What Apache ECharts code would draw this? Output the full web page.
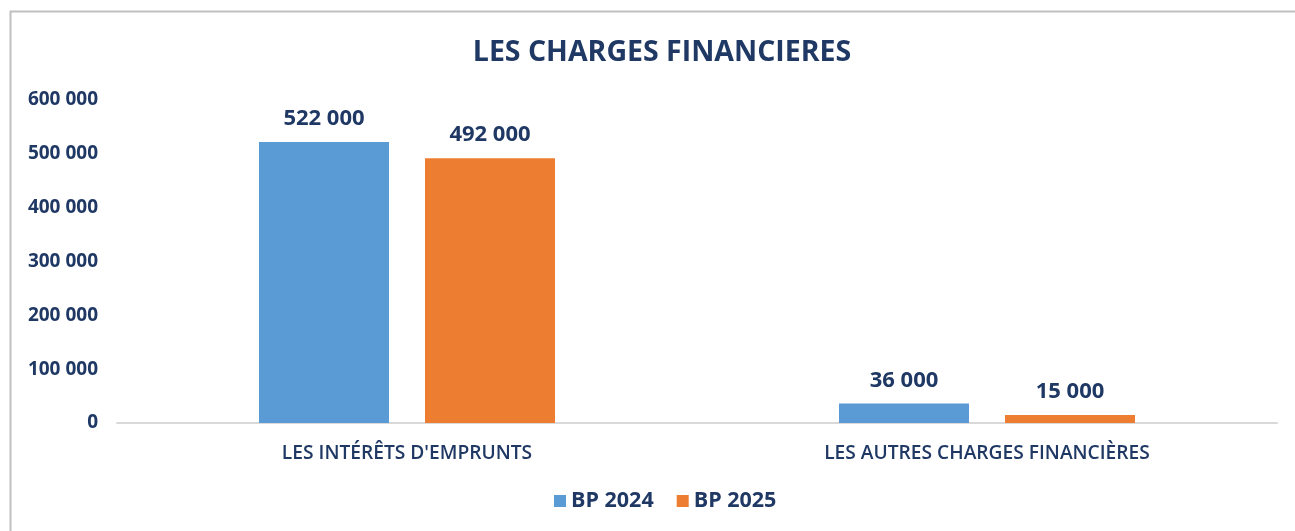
<!DOCTYPE html>
<html><head><meta charset="utf-8">
<script src="https://cdn.jsdelivr.net/npm/echarts@6/dist/echarts.min.js"></script>
<style>html,body{margin:0;padding:0;background:#fff}#c{width:1295px;height:531px}</style>
</head><body><div id="c"></div>
<script>
const categories = ["LES INTÉRÊTS D'EMPRUNTS", "LES AUTRES CHARGES FINANCIÈRES"];
const seriesNames = ["BP 2024", "BP 2025"];
const bp2024 = [522000, 36000];
const bp2025 = [492000, 15000];
const yTicks = [0, 100000, 200000, 300000, 400000, 500000, 600000];

const navy = '#1f3864';
const fontFam = '"Open Sans", "Noto Sans", sans-serif';
function fmt(v){ return String(v).replace(/\B(?=(\d{3})+(?!\d))/g, ' '); }

const chart = echarts.init(document.getElementById('c'));
chart.setOption({
  animation: false,
  graphic: [{type:'rect', shape:{x:10.5,y:11.5,width:1300,height:540}, style:{fill:'none', stroke:'#c0c0c0', lineWidth:2}}],
  title: {text:'LES CHARGES FINANCIERES', left:657, textAlign:'center', top:33, textStyle:{color:navy, fontSize:28.5, fontWeight:'bold', fontFamily:fontFam}},
  legend: {data: seriesNames, bottom:14, left:549, itemWidth:12, itemHeight:12, itemGap:23, icon:'rect',
    textStyle:{color:navy, fontSize:21.5, fontWeight:'bold', fontFamily:fontFam}},
  grid: {left:117, right:18, top:100, bottom:108},
  xAxis: {type:'category', data: categories,
    axisLine:{lineStyle:{color:'#d9d9d9', width:2}}, axisTick:{show:false},
    axisLabel:{color:navy, fontSize:19.2, fontWeight:600, margin:21, fontFamily:fontFam}},
  yAxis: {type:'value', min:yTicks[0], max:yTicks[yTicks.length-1], interval:100000,
    splitLine:{show:false}, axisLine:{show:false}, axisTick:{show:false},
    axisLabel:{color:navy, fontSize:19, fontWeight:'bold', margin:19, fontFamily:fontFam, formatter: v => fmt(v)}},
  series: [
    {name: seriesNames[0], type:'bar', data: bp2024, barWidth:130, barGap:'27.7%', itemStyle:{color:'#5b9bd5'},
      label:{show:true, position:'top', distance:12, color:navy, fontSize:22, fontWeight:'bold', fontFamily:fontFam, formatter: p => fmt(p.value)}},
    {name: seriesNames[1], type:'bar', data: bp2025, barWidth:130, itemStyle:{color:'#ed7d31'},
      label:{show:true, position:'top', distance:12, color:navy, fontSize:22, fontWeight:'bold', fontFamily:fontFam, formatter: p => fmt(p.value)}}
  ]
});
</script></body></html>
